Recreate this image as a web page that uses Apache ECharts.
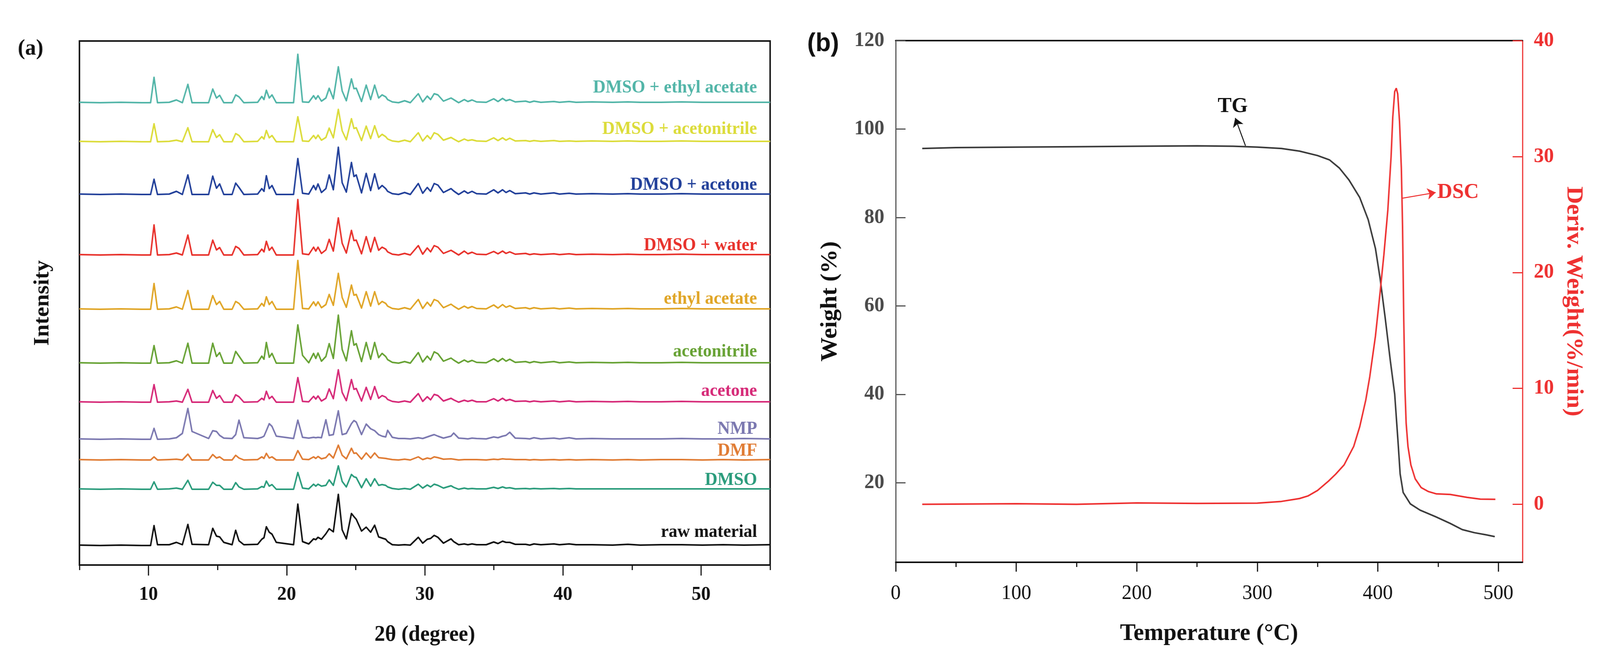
<!DOCTYPE html>
<html>
<head>
<meta charset="utf-8">
<script src="https://cdn.jsdelivr.net/npm/echarts@6/dist/echarts.min.js"></script>
<style>html,body{margin:0;padding:0;background:#fff;overflow:hidden}
#c{width:4230px;height:1680px;transform-origin:0 0}</style>
</head>
<body>
<div id="c"></div>
<script>
// ---------- Panel (a): XRD patterns ----------
const twoTheta = [
  5.0, 6.5, 8.0, 9.5, 10.15, 10.4, 10.65, 11.5, 12.02, 12.45,
  12.85, 13.15, 14.35, 14.65, 14.92, 15.15, 15.45, 16.05, 16.31, 16.55,
  16.9, 17.9, 18.2, 18.36, 18.53, 18.74, 18.94, 19.25, 20.5, 20.81,
  21.15, 21.6, 21.95, 22.11, 22.27, 22.52, 22.84, 23.08, 23.38, 23.74,
  24.02, 24.32, 24.69, 24.87, 25.04, 25.42, 25.76, 26.08, 26.37, 26.66,
  26.91, 27.17, 27.31, 27.65, 28.1, 28.54, 28.95, 29.53, 29.85, 30.18,
  30.42, 30.68, 30.95, 31.35, 31.9, 32.09, 32.45, 32.86, 33.12, 33.42,
  33.75, 34.45, 34.99, 35.3, 35.63, 35.88, 36.15, 36.55, 37.3, 37.6,
  37.9, 38.4, 39.35, 39.75, 40.45, 40.95, 42.1, 43.6, 44.7, 45.6,
  47.1, 48.6, 50.1, 51.6, 53.1, 55.0
];
const xrdNames = ['DMSO + ethyl acetate','DMSO + acetonitrile','DMSO + acetone','DMSO + water',
  'ethyl acetate','acetonitrile','acetone','NMP','DMF','DMSO','raw material'];
const xrdOffsets = [1184, 1084, 949, 794, 655, 517, 417, 322, 269, 194, 50];

const dmsoEthylAcetate = [
  1,0,1,0,0,65,0,1,7,0,
  47,0,0,35,12,19,0,0,20,15,
  0,1,16,8,32,12,20,0,0,124,
  2,1,18,9,18,4,12,37,10,92,
  30,5,61,36,37,3,45,8,45,12,
  20,15,8,2,0,5,0,23,2,17,
  8,23,20,4,12,8,0,8,3,7,
  2,1,10,3,11,5,8,2,4,1,
  4,1,3,1,3,1,2,1,2,1,
  1,2,1,1,1,1];
const dmsoAcetonitrile = [
  1,0,1,0,0,46,0,1,4,0,
  36,0,0,31,11,18,0,0,21,16,
  0,1,13,7,29,10,16,0,0,64,
  2,1,16,8,17,4,11,35,10,83,
  28,5,59,34,36,3,40,8,41,11,
  19,13,7,2,0,4,0,23,2,16,
  7,23,19,4,11,7,0,7,3,5,
  2,1,10,3,10,4,9,2,3,1,
  3,1,3,1,2,1,2,1,2,1,
  1,2,1,1,1,1];
const dmsoAcetone = [
  1,0,1,0,0,39,0,1,8,0,
  50,0,0,47,16,27,0,0,29,18,
  0,1,15,8,48,15,23,0,0,92,
  3,1,23,12,27,5,15,50,12,121,
  30,6,82,46,50,4,54,10,53,14,
  23,15,8,2,0,5,0,28,3,18,
  8,28,24,5,15,9,0,9,3,8,
  2,1,12,4,12,5,10,2,4,1,
  4,1,4,1,3,1,2,1,2,1,
  1,2,1,1,1,1];
const dmsoWater = [
  1,0,1,0,0,77,0,1,5,0,
  51,0,0,38,13,19,0,0,22,17,
  0,1,15,8,35,12,20,0,0,142,
  3,1,20,10,20,4,13,40,10,95,
  30,5,63,37,38,3,47,8,45,12,
  20,15,8,2,0,4,0,24,2,18,
  8,24,20,4,12,8,0,10,3,7,
  2,1,9,3,10,4,8,2,4,1,
  3,1,3,1,3,1,2,1,2,1,
  1,2,1,1,1,1];
const ethylAcetate = [
  1,0,1,0,0,66,0,1,6,0,
  48,0,0,35,12,20,0,0,20,15,
  0,1,15,8,32,12,20,0,0,125,
  2,1,19,9,19,4,12,38,10,92,
  30,5,62,36,38,3,45,8,45,12,
  20,15,8,2,0,4,0,25,2,18,
  8,25,21,4,13,8,0,8,3,7,
  2,1,11,3,12,5,9,2,4,1,
  4,1,3,1,3,1,2,1,2,1,
  1,2,1,1,1,1];
const acetonitrile = [
  1,0,1,0,0,45,0,1,6,0,
  51,0,0,51,17,27,0,0,30,18,
  0,1,18,10,53,15,25,0,0,98,
  20,1,25,12,26,5,17,50,12,123,
  35,6,83,46,50,4,53,10,53,14,
  25,17,9,2,0,4,0,27,3,18,
  8,29,24,5,13,8,0,8,3,7,
  2,1,11,4,12,5,10,2,4,1,
  4,1,4,1,3,1,2,1,2,1,
  1,2,1,1,1,1];
const acetone = [
  1,0,1,0,0,45,0,1,3,0,
  33,0,0,30,10,17,0,0,19,14,
  0,1,10,6,28,9,15,0,0,63,
  2,1,15,8,16,3,10,34,9,83,
  25,4,58,33,35,3,38,7,40,10,
  17,13,7,2,0,3,0,22,2,14,
  6,20,17,3,10,6,0,5,2,5,
  1,1,9,3,10,4,7,2,3,1,
  3,1,3,1,3,1,2,1,2,1,
  1,2,1,1,1,1];
const nmp = [
  1,0,1,0,0,28,0,1,4,15,
  79,20,2,22,20,10,3,2,12,49,
  4,2,5,8,22,40,33,8,2,49,
  5,3,5,4,5,4,50,10,12,73,
  12,15,40,48,44,12,39,27,22,12,
  8,6,23,5,2,2,1,4,2,6,
  9,12,8,3,8,16,3,2,1,3,
  2,1,6,4,8,10,18,3,2,1,
  4,1,3,1,4,1,2,1,1,1,
  1,2,1,1,2,1];
const dmf = [
  1,0,1,0,0,8,0,1,2,0,
  15,0,0,14,5,8,0,0,12,5,
  0,1,8,4,17,5,8,0,0,24,
  2,1,8,4,9,3,6,16,5,38,
  12,3,30,17,18,2,18,5,18,6,
  5,4,3,1,0,2,0,8,1,5,
  3,8,6,2,3,2,0,1,1,1,
  1,0,2,1,3,2,2,1,1,0,
  1,0,1,0,1,0,1,0,1,0,
  1,1,0,1,0,1];
const dmso = [
  1,0,1,0,0,19,0,1,3,0,
  23,0,0,18,10,10,0,0,17,6,
  0,1,7,5,21,8,12,0,0,43,
  3,1,13,8,13,8,10,24,10,60,
  20,6,38,32,30,4,27,8,27,10,
  12,10,6,2,0,2,0,13,3,11,
  6,13,10,3,9,5,0,3,1,2,
  1,1,5,2,6,3,4,1,2,1,
  2,1,2,1,2,1,1,1,1,1,
  1,1,1,1,1,1];
const rawMaterial = [
  1,0,1,0,0,51,2,2,8,2,
  54,3,2,44,24,22,8,2,39,12,
  2,3,16,20,48,34,29,8,2,106,
  10,4,17,15,21,16,30,43,35,131,
  40,17,82,74,67,37,47,34,52,22,
  19,16,10,2,1,2,1,21,6,16,
  18,26,21,6,17,10,2,4,2,4,
  2,2,9,5,11,8,8,3,3,1,
  4,2,4,2,4,2,2,1,3,1,
  2,2,1,2,1,2];
const xrdValues = [dmsoEthylAcetate, dmsoAcetonitrile, dmsoAcetone, dmsoWater, ethylAcetate,
  acetonitrile, acetone, nmp, dmf, dmso, rawMaterial];
const xTicksA = [10, 20, 30, 40, 50];

// ---------- Panel (b): TG / DSC ----------
const tgCurve = [
  [22,95.6],[50,95.8],[100,95.9],[150,96.0],[200,96.1],[250,96.2],[280,96.1],[300,95.9],
  [320,95.6],[335,95.0],[350,94.0],[360,93.0],[368,91.2],[376,88.5],[385,84.5],[392,79.5],
  [398,73],[402,66],[406,57.5],[410.4,47.5],[414,40],[416.7,29.5],[418.5,22],[421,17.8],
  [427,15.2],[435,13.8],[448,12.3],[460,10.8],[470,9.4],[480,8.7],[490,8.2],[497,7.8]
];
const dscCurve = [
  [22,0],[100,0.05],[150,0],[200,0.12],[250,0.08],[300,0.1],[320,0.25],[335,0.5],
  [342,0.72],[350,1.2],[359,2.0],[365,2.6],[372,3.4],[380,5.0],[385,6.7],[390,9.0],
  [393.3,11],[398,14.5],[401.8,18.2],[405,21.5],[408.3,25.4],[411,30],[412.4,33.4],[414,35.6],
  [415.3,35.9],[416.5,35.4],[418,33],[419.5,29],[420.5,24],[421.5,16],[422.5,10],[423.5,7],
  [425,5],[427.4,3.4],[431,2.2],[436,1.44],[442,1.1],[448.6,0.9],[460,0.85],[474,0.6],
  [485,0.45],[497.5,0.43]
];
const tempTicks = [0, 100, 200, 300, 400, 500];
const weightTicks = [20, 40, 60, 80, 100, 120];
const derivTicks = [0, 10, 20, 30, 40];

// ---------- styles / layout ----------
const SERIF = '"Liberation Serif","Times New Roman",serif';
const xrdColors = ['#52b5a8','#dcdc3a','#22409a','#e8322c','#e0a526','#67a234','#d62a78','#7b78b0','#e07c34','#2b9c7c','#111111'];
const labelLift = [38, 32, 24, 24, 26, 29, 28, 26, 23, 23, 34];
const RED = '#ee3131';

const series = [];
xrdNames.forEach((name, i) => {
  series.push({
    name, type: 'line', xAxisIndex: 0, yAxisIndex: 0,
    data: twoTheta.map((t, k) => [t, xrdOffsets[i] + xrdValues[i][k]]),
    symbol: 'none', silent: true,
    lineStyle: { color: xrdColors[i], width: 4, join: 'round' },
    markPoint: {
      silent: true, symbol: 'rect', symbolSize: 1,
      itemStyle: { color: 'rgba(0,0,0,0)' },
      label: { show: true, position: 'left', distance: 0, formatter: name,
        color: xrdColors[i], fontFamily: SERIF, fontWeight: 'bold', fontSize: 46 },
      data: [{ coord: [54.07, xrdOffsets[i] + labelLift[i]] }]
    }
  });
});
series.push({
  name: 'TG', type: 'line', xAxisIndex: 2, yAxisIndex: 1, data: tgCurve,
  symbol: 'none', silent: true, lineStyle: { color: '#3a3a3a', width: 4 },
  markLine: { silent: true, symbol: ['none', 'arrow'], symbolSize: 22,
    label: { show: false }, lineStyle: { color: '#111', width: 2.5, type: 'solid' },
    data: [[{ coord: [290.2, 96.2] }, { coord: [281.7, 102.5] }]] },
  markPoint: { silent: true, symbol: 'rect', symbolSize: 1, itemStyle: { color: 'rgba(0,0,0,0)' },
    label: { show: true, position: 'inside', formatter: 'TG', color: '#111',
      fontFamily: SERIF, fontWeight: 'bold', fontSize: 55 },
    data: [{ coord: [279.6, 105.1] }] }
});
series.push({
  name: 'DSC', type: 'line', xAxisIndex: 2, yAxisIndex: 2, data: dscCurve,
  symbol: 'none', silent: true, lineStyle: { color: RED, width: 4 },
  markLine: { silent: true, symbol: ['none', 'arrow'], symbolSize: 22,
    label: { show: false }, lineStyle: { color: RED, width: 2.5, type: 'solid' },
    data: [[{ coord: [420.1, 26.4] }, { coord: [448, 26.9] }]] },
  markPoint: { silent: true, symbol: 'rect', symbolSize: 1, itemStyle: { color: 'rgba(0,0,0,0)' },
    label: { show: true, position: 'right', distance: 2, formatter: 'DSC', color: RED,
      fontFamily: SERIF, fontWeight: 'bold', fontSize: 55 },
    data: [{ coord: [448.5, 26.9] }] }
});

const option = {
  animation: false,
  backgroundColor: '#ffffff',
  grid: [
    { left: 210, top: 105, width: 1826, height: 1342, show: true, borderColor: '#111', borderWidth: 4, backgroundColor: 'rgba(0,0,0,0)' },
    { left: 2368, top: 104, width: 1657, height: 1336 }
  ],
  xAxis: [
    { gridIndex: 0, type: 'value', min: 5, max: 55, interval: 5, position: 'bottom',
      axisLine: { onZero: false, lineStyle: { color: '#111', width: 4 } },
      axisTick: { length: 13, lineStyle: { color: '#111', width: 3 } },
      axisLabel: { show: false }, splitLine: { show: false } },
    { gridIndex: 0, type: 'value', min: 5, max: 55, position: 'bottom',
      axisLine: { show: false, onZero: false },
      axisTick: { customValues: xTicksA, length: 27, lineStyle: { color: '#111', width: 3 } },
      axisLabel: { customValues: xTicksA, color: '#111', fontFamily: SERIF, fontWeight: 'bold', fontSize: 50, margin: 51 },
      splitLine: { show: false },
      name: '2θ (degree)', nameLocation: 'middle', nameGap: 152,
      nameTextStyle: { color: '#111', fontFamily: SERIF, fontWeight: 'bold', fontSize: 56 } },
    { gridIndex: 1, type: 'value', min: 0, max: 520, interval: 100, position: 'bottom',
      axisLine: { onZero: false, lineStyle: { color: '#111', width: 4 } },
      axisTick: { customValues: tempTicks, length: 24, lineStyle: { color: '#111', width: 3 } },
      minorTick: { show: true, splitNumber: 2, length: 12, lineStyle: { color: '#111', width: 3 } },
      axisLabel: { customValues: tempTicks, color: '#111', fontFamily: SERIF, fontSize: 53, margin: 54 },
      splitLine: { show: false }, minorSplitLine: { show: false },
      name: 'Temperature (°C)', nameLocation: 'middle', nameGap: 152,
      nameTextStyle: { color: '#111', fontFamily: SERIF, fontWeight: 'bold', fontSize: 62 } },
    { gridIndex: 1, type: 'value', min: 0, max: 520, position: 'top',
      axisLine: { onZero: false, lineStyle: { color: '#111', width: 4 } },
      axisTick: { show: false }, axisLabel: { show: false }, splitLine: { show: false } }
  ],
  yAxis: [
    { gridIndex: 0, type: 'value', min: 0, max: 1342,
      axisLine: { show: false, onZero: false }, axisTick: { show: false }, axisLabel: { show: false }, splitLine: { show: false },
      name: 'Intensity', nameLocation: 'middle', nameGap: 68, nameRotate: 90,
      nameTextStyle: { color: '#111', fontFamily: SERIF, fontWeight: 'bold', fontSize: 58 } },
    { gridIndex: 1, type: 'value', min: 2, max: 120, position: 'left',
      axisLine: { onZero: false, lineStyle: { color: '#555', width: 3 } },
      axisTick: { inside: true, customValues: weightTicks, length: 26, lineStyle: { color: '#555', width: 3 } },
      axisLabel: { customValues: weightTicks, color: '#4a4a4a', fontFamily: SERIF, fontWeight: 'bold', fontSize: 53, margin: 30 },
      splitLine: { show: false },
      name: 'Weight (%)', nameLocation: 'middle', nameGap: 142, nameRotate: 90,
      nameTextStyle: { color: '#111', fontFamily: SERIF, fontWeight: 'bold', fontSize: 62 } },
    { gridIndex: 1, type: 'value', min: -5, max: 40, position: 'right',
      axisLine: { onZero: false, lineStyle: { color: RED, width: 3 } },
      axisTick: { inside: true, customValues: derivTicks, length: 26, lineStyle: { color: RED, width: 3 } },
      axisLabel: { customValues: derivTicks, color: RED, fontFamily: SERIF, fontWeight: 'bold', fontSize: 53, margin: 30 },
      splitLine: { show: false },
      name: 'Deriv. Weight(%/min)', nameLocation: 'middle', nameGap: 104, nameRotate: -90,
      nameTextStyle: { color: RED, fontFamily: SERIF, fontWeight: 'bold', fontSize: 62 } }
  ],
  graphic: [
    { type: 'text', left: 47, top: 96, style: { text: '(a)', fill: '#111', font: 'bold 58px "Liberation Serif"' } },
    { type: 'text', left: 2134, top: 80, style: { text: '(b)', fill: '#111', font: 'bold 66px "Liberation Sans"' } }
  ],
  series
};

// The design is laid out on a 4230 x 1680 canvas; if the window is narrower, fit it.
const box = document.getElementById('c');
const sx = Math.min(1, window.innerWidth / 4230);
const sy = Math.min(1, window.innerHeight / 1680);
if (sx < 1 || sy < 1) box.style.transform = 'scale(' + sx + ',' + sy + ')';

const chart = echarts.init(box, null, { renderer: 'canvas' });
chart.setOption(option);
</script>
</body>
</html>
